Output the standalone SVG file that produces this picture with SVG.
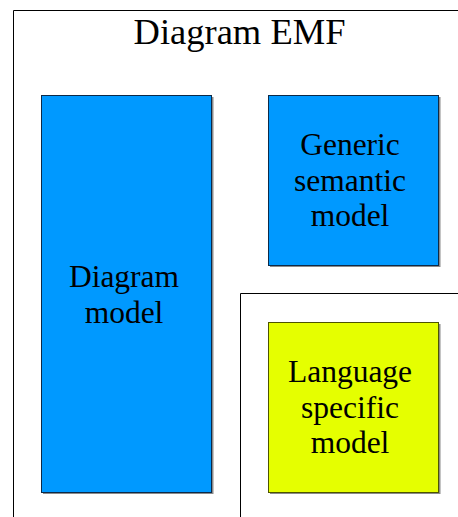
<svg xmlns="http://www.w3.org/2000/svg" width="458" height="517" viewBox="0 0 458 517">
  <style>
    .frame { fill: none; stroke: #000; stroke-width: 1; }
    .shadow { fill: #8a8a8a; }
    .blue { fill: #0099ff; stroke: #0d2a48; stroke-width: 1; }
    .yellow { fill: #e5ff00; stroke: #4d5400; stroke-width: 1; }
    .label { font-family: "Liberation Serif", "Times New Roman", serif; font-size: 31.5px; fill: #000; text-anchor: middle; }
    .title { font-family: "Liberation Serif", "Times New Roman", serif; font-size: 36.5px; fill: #000; text-anchor: middle; }
  </style>

  <rect width="458" height="517" fill="#fff"/>

  <!-- package frames (open on the right and bottom) -->
  <g id="frames">
    <path class="frame" d="M13.5,517 V10.5 H458"/>
    <path class="frame" d="M240.5,517 V293.5 H458"/>
  </g>

  <text class="title" x="239.5" y="43.5">Diagram EMF</text>

  <g id="diagram-model">
    <rect class="shadow" x="43" y="97" width="170.5" height="397"/>
    <rect class="blue" x="41.5" y="95.5" width="170" height="397"/>
    <text class="label" x="124" y="287">Diagram</text>
    <text class="label" x="124" y="322.5">model</text>
  </g>

  <g id="generic-semantic-model">
    <rect class="shadow" x="270" y="97" width="170.5" height="170"/>
    <rect class="blue" x="268.5" y="95.5" width="170" height="170"/>
    <text class="label" x="350" y="155">Generic</text>
    <text class="label" x="350" y="190.5">semantic</text>
    <text class="label" x="350" y="226">model</text>
  </g>

  <g id="language-specific-model">
    <rect class="shadow" x="270" y="324" width="170.5" height="170"/>
    <rect class="yellow" x="268.5" y="322.5" width="170" height="170"/>
    <text class="label" x="350" y="382">Language</text>
    <text class="label" x="350" y="417.5">specific</text>
    <text class="label" x="350" y="453">model</text>
  </g>

  <g id="connectors"></g>
</svg>
